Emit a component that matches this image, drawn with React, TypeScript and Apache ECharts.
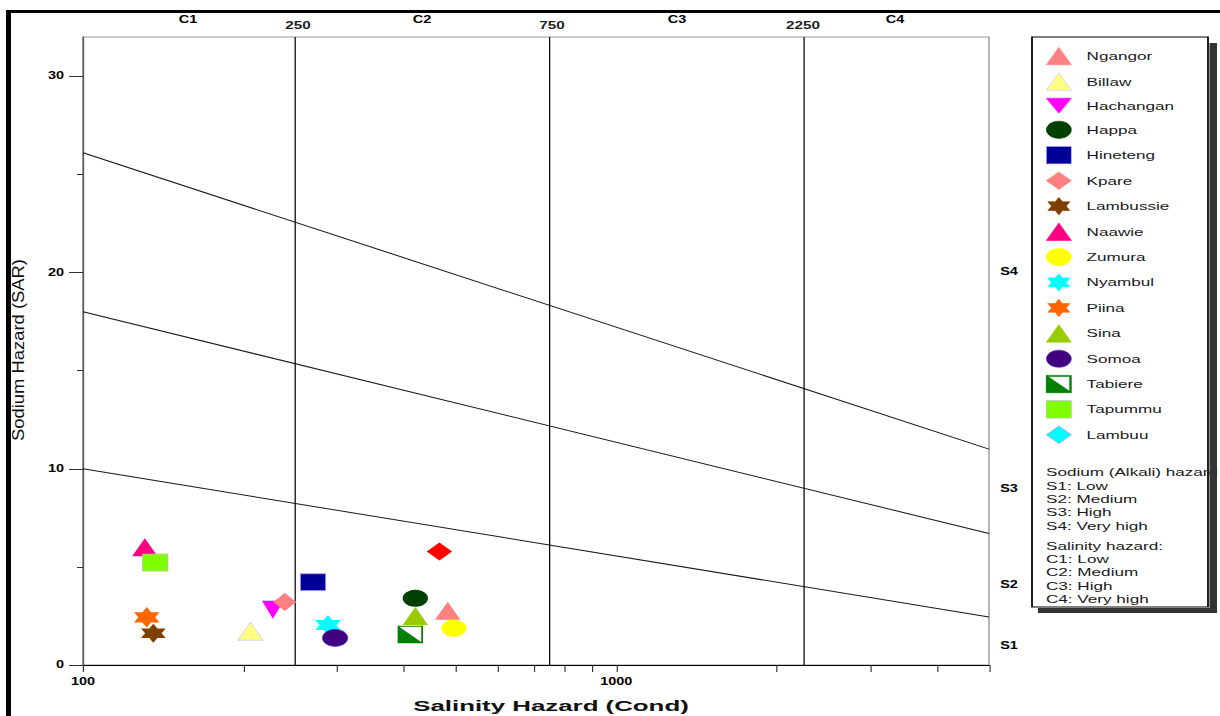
import React, { useEffect, useRef } from "react";
import * as echarts from "echarts";

// The reference picture is horizontally stretched; draw at a base width and stretch with CSS.
const BASE_W = 841;
const H = 716;
const STRETCH = 1220 / BASE_W;
const px = (x: number) => x / STRETCH;
const FONT = "'Liberation Sans', Arial, Helvetica, sans-serif";

// ---- data ----
const stationNames = [
  "Ngangor", "Billaw", "Hachangan", "Happa", "Hineteng", "Kpare", "Lambussie", "Naawie",
  "Zumura", "Nyambul", "Piina", "Sina", "Somoa", "Tabiere", "Tapummu", "Lambuu",
];
const conductivity = [483, 206, 227, 420, 270, 239, 135.5, 130.6, 496, 288, 131.7, 420, 297, 411, 136.6, 466];
const sarValues = [2.76, 1.72, 2.81, 3.4, 4.22, 3.21, 1.62, 6.0, 1.87, 2.04, 2.43, 2.5, 1.38, 1.56, 5.22, 5.78];

const salinityBounds = [250, 750, 2250];
const sodiumLineS1S2 = [[100, 10.0], [5000, 2.45]];
const sodiumLineS2S3 = [[100, 18.0], [5000, 6.7]];
const sodiumLineS3S4 = [[100, 26.1], [5000, 11.0]];

const xTickValues = [100, 200, 300, 400, 500, 600, 700, 800, 900, 1000, 2000, 3000, 4000, 5000];
const xLabelValues = [100, 1000];
const yMajorTicks = [0, 10, 20, 30];
const yMinorTicks = [5, 15, 25];

const salinityClasses = ["C1", "C2", "C3", "C4"];
const sodiumClasses = ["S4", "S3", "S2", "S1"];
const sodiumLegendText = "Sodium (Alkali) hazard\nS1: Low\nS2: Medium\nS3: High\nS4: Very high";
const salinityLegendText = "Salinity hazard:\nC1: Low\nC2: Medium\nC3: High\nC4: Very high";

// ---- styles ----
const HEX = "path://M50,0L64.43,25L93.3,25L78.87,50L93.3,75L64.43,75L50,100L35.57,75L6.7,75L21.13,50L6.7,25L35.57,25Z";
const DOWN_TRI = "path://M0,0L100,0L50,86.6Z";
const HALF_SQ = "path://M0,0L100,0L100,100L0,100Z M7,7L7,93L93,93L93,7Z M0,0L100,100L0,100Z";

const stationStyle: Record<string, any> = {
  Ngangor: { symbol: "triangle", size: [17.5, 18], color: "#ff8080" },
  Billaw: { symbol: "triangle", size: [17.5, 18], color: "#ffff80", border: "#c0c0ff" },
  Hachangan: { symbol: DOWN_TRI, size: [15, 18], color: "#ff00ff" },
  Happa: { symbol: "circle", size: [17.5, 17], color: "#004000" },
  Hineteng: { symbol: "rect", size: [17.5, 17], color: "#000099", border: "#c8b8ff" },
  Kpare: { symbol: "diamond", size: [16, 18], color: "#ff8080" },
  Lambussie: { symbol: HEX, size: [17, 19], color: "#7f3f00" },
  Naawie: { symbol: "triangle", size: [17.5, 18], color: "#ff0080" },
  Zumura: { symbol: "circle", size: [17.5, 17], color: "#ffff00" },
  Nyambul: { symbol: HEX, size: [17.5, 20], color: "#00ffff" },
  Piina: { symbol: HEX, size: [17.5, 20.5], color: "#ff6600" },
  Sina: { symbol: "triangle", size: [17.5, 18], color: "#99cc00" },
  Somoa: { symbol: "circle", size: [17.5, 17], color: "#400080", border: "#4040c0" },
  Tabiere: { symbol: HALF_SQ, size: [17.5, 17.5], color: "#008000" },
  Tapummu: { symbol: "rect", size: [17.5, 17], color: "#80ff00", border: "#b8b8b8" },
  Lambuu: { symbol: "diamond", size: [17.5, 18], color: "#ff0000" },
};

function buildOption() {
  const stationSeries = stationNames.map((name, i) => {
    const st = stationStyle[name];
    return {
      type: "scatter",
      name,
      data: [[conductivity[i], sarValues[i]]],
      symbol: st.symbol,
      symbolSize: st.size,
      itemStyle: {
        color: st.color,
        borderColor: st.border || st.color,
        borderWidth: st.border ? 0.6 : 0,
        opacity: 1,
      },
      z: 4,
      silent: true,
    };
  });

  const lineBase = {
    type: "line",
    symbol: "none",
    silent: true,
    z: 3,
    lineStyle: { color: "#1a1a1a", width: 1 },
  };
  const sodiumSeries = [sodiumLineS1S2, sodiumLineS2S3, sodiumLineS3S4].map((d) => ({
    ...lineBase,
    data: d,
  }));
  const salinitySeries = salinityBounds.map((v) => ({
    ...lineBase,
    lineStyle: { color: "#000", width: 0.85 },
    data: [[v, 0], [v, 32]],
  }));

  const legendData = stationNames.map((name) =>
    name === "Lambuu"
      ? { name, itemStyle: { color: "#00ffff", borderColor: "#b080ff", borderWidth: 0.5 } }
      : { name }
  );

  const cLabelX = [188, 422, 677, 895];
  const boundLabelX = [298, 552, 803];
  const sLabelY = [272, 489, 585, 646];

  const txt = (text: string, x: number, y: number, extra: any = {}) => ({
    type: "text",
    x,
    y,
    z: 5,
    style: {
      text,
      fill: "#000",
      fontFamily: FONT,
      align: "center",
      verticalAlign: "middle",
      ...extra,
    },
  });

  const graphics: any[] = [
    // outer frame
    { type: "line", z: 5, shape: { x1: px(6), y1: 11.5, x2: BASE_W, y2: 11.5 }, style: { stroke: "#000", lineWidth: 3 } },
    { type: "line", z: 5, shape: { x1: px(8.5), y1: 10, x2: px(8.5), y2: H }, style: { stroke: "#000", lineWidth: px(5) } },
    // legend box
    {
      type: "rect",
      z: 1,
      shape: { x: px(1032), y: 37, width: px(1208) - px(1032), height: 570 },
      style: { fill: "#fff", stroke: "#000", lineWidth: 1.2 },
    },
    { type: "rect", z: 10, shape: { x: px(1209.5), y: 43, width: px(1217) - px(1209.5), height: 570 }, style: { fill: "#333" } },
    { type: "rect", z: 10, shape: { x: px(1038), y: 608, width: px(1217) - px(1038), height: 5 }, style: { fill: "#333" } },
    {
      type: "text", z: 6, x: px(1046), y: 465.5,
      style: { text: sodiumLegendText, fill: "#1a1a1a", fontFamily: FONT, fontSize: 11.8, lineHeight: 13.4, verticalAlign: "top", align: "left" },
    },
    {
      type: "text", z: 6, x: px(1046), y: 538.8,
      style: { text: salinityLegendText, fill: "#1a1a1a", fontFamily: FONT, fontSize: 11.8, lineHeight: 13.4, verticalAlign: "top", align: "left" },
    },
    // axis titles
    {
      type: "text", z: 5, x: px(551), y: 706, scaleX: 1.15,
      style: { text: "Salinity Hazard (Cond)", fill: "#111", fontFamily: FONT, fontSize: 15.5, fontWeight: "bold", align: "center", verticalAlign: "middle" },
    },
    {
      type: "text", z: 5, x: px(18), y: 350, rotation: Math.PI / 2, scaleX: 1.6,
      style: { text: "Sodium Hazard (SAR)", fill: "#111", fontFamily: FONT, fontSize: 11.5, align: "center", verticalAlign: "middle" },
    },
  ];
  salinityClasses.forEach((c, i) => graphics.push(txt(c, px(cLabelX[i]), 20, { fontSize: 10, fontWeight: "bold" })));
  salinityBounds.forEach((v, i) => graphics.push(txt(String(v), px(boundLabelX[i]), 25, { fontSize: 10.5, fontWeight: "bold", fill: "#222" })));
  sodiumClasses.forEach((s, i) => graphics.push(txt(s, px(1009), sLabelY[i], { fontSize: 10, fontWeight: "bold" })));

  return {
    animation: false,
    backgroundColor: "#fff",
    textStyle: { fontFamily: FONT },
    grid: {
      left: px(83),
      right: BASE_W - px(989),
      top: 37,
      bottom: 51,
      show: true,
      borderColor: "#999",
      borderWidth: 1,
      backgroundColor: "transparent",
    },
    xAxis: {
      type: "log",
      logBase: 10,
      min: 100,
      max: 5000,
      axisLine: { show: true, lineStyle: { color: "#000", width: 1 } },
      axisTick: { show: true, customValues: xTickValues, length: 7, lineStyle: { color: "#333", width: 0.8 } },
      axisLabel: {
        customValues: xLabelValues,
        formatter: (v: number) => String(Math.round(v)),
        margin: 12,
        fontSize: 10,
        fontWeight: "bold",
        color: "#000",
        fontFamily: FONT,
      },
      splitLine: { show: false },
      minorTick: { show: false },
    },
    yAxis: [
      {
        type: "value",
        min: 0,
        max: 32,
        interval: 10,
        axisLine: { show: true, lineStyle: { color: "#555", width: 1 } },
        axisTick: { show: true, customValues: yMajorTicks, length: px(14), lineStyle: { color: "#333" } },
        axisLabel: { customValues: yMajorTicks, margin: px(19), fontSize: 10, fontWeight: "bold", color: "#000", fontFamily: FONT },
        splitLine: { show: false },
      },
      {
        type: "value",
        min: 0,
        max: 32,
        position: "left",
        axisLine: { show: false },
        axisTick: { show: true, customValues: yMinorTicks, length: px(6), lineStyle: { color: "#333" } },
        axisLabel: { show: false },
        splitLine: { show: false },
      },
    ],
    legend: {
      orient: "vertical",
      left: px(1046),
      top: 47,
      padding: 0,
      itemWidth: px(25),
      itemHeight: 17.5,
      itemGap: 7.5,
      selectedMode: false,
      itemStyle: { borderWidth: 0.5 },
      textStyle: { fontSize: 11.8, color: "#1a1a1a", fontFamily: FONT, padding: [0, 0, 0, 5.5] },
      data: legendData,
      z: 6,
    },
    graphic: graphics,
    series: [...sodiumSeries, ...salinitySeries, ...stationSeries],
  };
}

export default function App() {
  const ref = useRef<HTMLDivElement>(null);
  useEffect(() => {
    const chart = echarts.init(ref.current!, null, { renderer: "svg" });
    chart.setOption(buildOption() as any);
    return () => chart.dispose();
  }, []);
  return (
    <div
      ref={ref}
      style={{
        position: "fixed",
        left: 0,
        top: 0,
        width: BASE_W,
        height: H,
        transform: `scaleX(${STRETCH})`,
        transformOrigin: "0 0",
        background: "#fff",
      }}
    />
  );
}
